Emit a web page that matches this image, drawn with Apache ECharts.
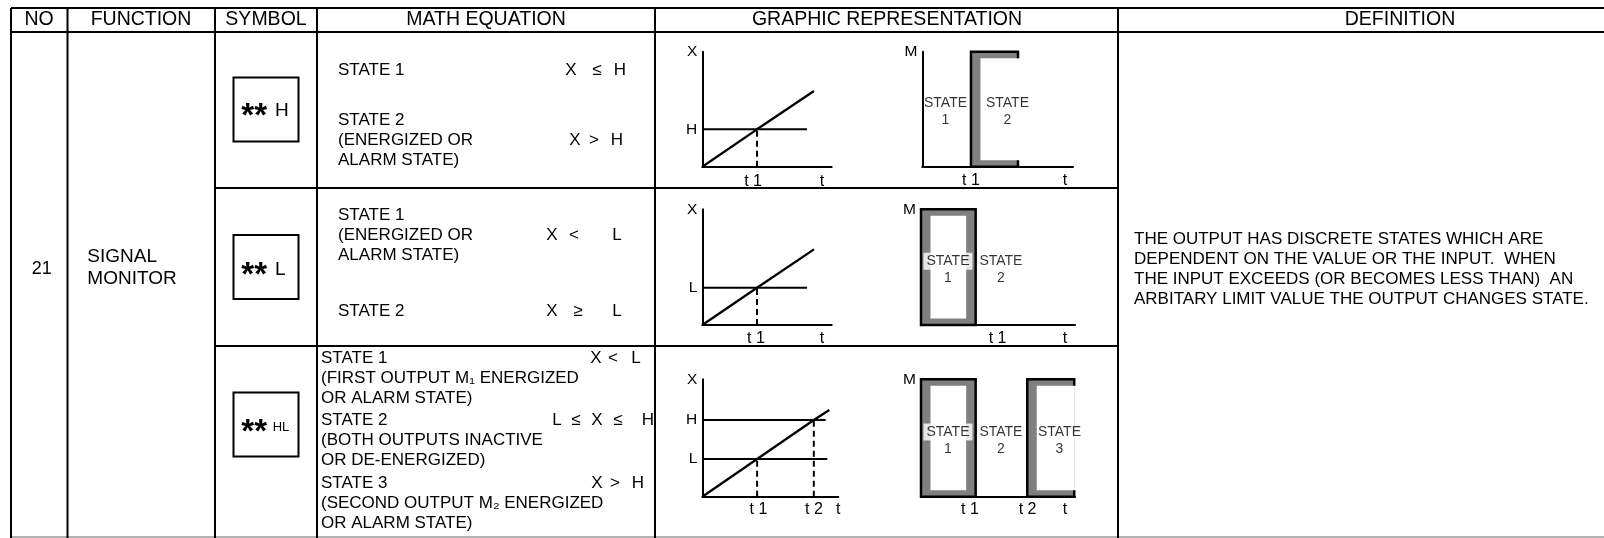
<!DOCTYPE html>
<html><head><meta charset="utf-8">
<script src="https://cdn.jsdelivr.net/npm/echarts@6/dist/echarts.min.js"></script>
<style>html,body{margin:0;padding:0;background:#fff}#c{width:1604px;height:538px}</style>
</head><body><div id="c"></div>
<script>
// ================= DATA =================
const headers = ['NO', 'FUNCTION', 'SYMBOL', 'MATH EQUATION', 'GRAPHIC REPRESENTATION', 'DEFINITION'];
const itemNo = '21';
const functionName = 'SIGNAL\nMONITOR';
const symbolSuffix = ['H', 'L', 'HL'];
const eqTextRow1 = ['STATE 1', 'STATE 2\n(ENERGIZED OR\nALARM STATE)'];
const eqTextRow2 = ['STATE 1\n(ENERGIZED OR\nALARM STATE)', 'STATE 2'];
const eqTextRow3 = ['STATE 1\n(FIRST OUTPUT M\u2081 ENERGIZED\nOR ALARM STATE)',
                    'STATE 2\n(BOTH OUTPUTS INACTIVE\nOR DE-ENERGIZED)',
                    'STATE 3\n(SECOND OUTPUT M\u2082 ENERGIZED\nOR ALARM STATE)'];
const condRow1 = [['X', '\u2264', 'H'], ['X', '>', 'H']];
const condRow2 = [['X', '<', 'L'], ['X', '\u2265', 'L']];
const condRow3 = [['X', '<', 'L'], ['L', '\u2264', 'X', '\u2264', 'H'], ['X', '>', 'H']];
const definitionText = 'THE OUTPUT HAS DISCRETE STATES WHICH ARE\nDEPENDENT ON THE VALUE OR THE INPUT.  WHEN\nTHE INPUT EXCEEDS (OR BECOMES LESS THAN)  AN\nARBITARY LIMIT VALUE THE OUTPUT CHANGES STATE.';

// X-t plots (axes 0..10): ramp input, limit levels [name, level, line end], tick labels
const rampRow1 = [[0, 0], [4.23, 3.25], [8.63, 6.58]];
const limitsRow1 = [['H', 3.25, 8.09]];
const crossRow1 = [[4.23, 3.25]];
const tTicksRow1 = [['t 1', 3.92], ['t', 9.25]];

const rampRow2 = [[0, 0], [4.23, 3.22], [8.63, 6.54]];
const limitsRow2 = [['L', 3.22, 8.09]];
const crossRow2 = [[4.23, 3.22]];
const tTicksRow2 = [['t 1', 4.15], ['t', 9.25]];

const rampRow3 = [[0, 0], [4.03, 3.21], [8.2, 6.53], [9.34, 7.38]];
const limitsRow3 = [['H', 6.53, 9.07], ['L', 3.21, 9.19]];
const crossRow3 = [[4.03, 3.21], [8.2, 6.53]];
const tTicksRow3 = [['t 1', 4.13], ['t 2', 8.21], ['t', 10]];

// M-t output plots (axes 0..10): [start, end, closed(1)/open(0)], tick labels, state labels [state, x]
const M_HIGH = 10;
const outRow1 = [[3.23, 6.35, 0]];
const mTicksRow1 = [['t 1', 3.23], ['t', 9.47]];
const statesRow1 = [['1', 1.54], ['2', 5.65]];

const outRow2 = [[0, 3.55, 1]];
const mTicksRow2 = [['t 1', 4.97], ['t', 9.35]];
const statesRow2 = [['1', 1.75], ['2', 5.19]];

const outRow3 = [[0, 3.55, 1], [6.9, 9.95, 0]];
const mTicksRow3 = [['t 1', 3.18], ['t 2', 6.92], ['t', 9.35]];
const statesRow3 = [['1', 1.75], ['2', 5.19], ['3', 8.99]];

// ================= LAYOUT / STYLE =================
const FONT = '"Liberation Sans", Arial, Helvetica, sans-serif';
const GREY = '#808080';
const grids = [
  { left: 702.3, top: 51.7, width: 129.4, height: 115 },
  { left: 922.3, top: 51.7, width: 150.7, height: 115 },
  { left: 702.3, top: 209.3, width: 129.4, height: 115.7 },
  { left: 921, top: 209.3, width: 154, height: 115.7 },
  { left: 702.3, top: 379.3, width: 136, height: 117.4 },
  { left: 921, top: 379.3, width: 154, height: 117.4 }
].map(g => Object.assign({ outerBoundsMode: 'none', containLabel: false }, g));
const tMargins = [6.5, 6, 6, 6, 4.5, 4.5];

function lookup(list, v) {
  for (const t of list) if (Math.abs(t[1] - v) < 1e-6) return t[0];
  return '';
}
function mkX(gi, ticks) {
  return {
    gridIndex: gi, type: 'value', min: 0, max: 10,
    axisLine: { show: true, onZero: false, lineStyle: { color: '#000', width: 2 } },
    axisTick: { show: false }, splitLine: { show: false },
    axisLabel: { show: true, customValues: ticks.map(t => t[1]), formatter: v => lookup(ticks, v),
      margin: tMargins[gi], color: '#000', fontSize: 16, fontFamily: FONT }
  };
}
function mkY(gi, ticks) {
  return {
    gridIndex: gi, type: 'value', min: 0, max: 10,
    axisLine: { show: true, onZero: false, lineStyle: { color: '#000', width: 2 } },
    axisTick: { show: false }, splitLine: { show: false },
    axisLabel: { show: true, customValues: ticks.map(t => t[1]), formatter: v => lookup(ticks, v),
      margin: 5, color: '#000', fontSize: 15.5, fontFamily: FONT }
  };
}

const xAxes = [], yAxes = [], series = [];
const xtRows = [[rampRow1, limitsRow1, crossRow1, tTicksRow1], [rampRow2, limitsRow2, crossRow2, tTicksRow2], [rampRow3, limitsRow3, crossRow3, tTicksRow3]];
const mtRows = [[outRow1, mTicksRow1, statesRow1], [outRow2, mTicksRow2, statesRow2], [outRow3, mTicksRow3, statesRow3]];

function renderOutput(params, api) {
  const a = api.coord([api.value(0), 0]);
  const b = api.coord([api.value(1), M_HIGH]);
  const closed = api.value(2) === 1;
  const L = a[0], R = b[0], B = a[1], T = b[1];
  const ix = 9.5, iy = 6.5;
  const children = [
    { type: 'rect', shape: { x: L, y: T, width: R - L, height: B - T }, style: { fill: GREY } },
    { type: 'rect', shape: { x: L + ix, y: T + iy, width: closed ? R - L - 2 * ix : R - L - ix, height: B - T - 2 * iy }, style: { fill: '#fff' } }
  ];
  if (closed) {
    children.push({ type: 'rect', shape: { x: L, y: T, width: R - L, height: B - T }, style: { fill: 'none', stroke: '#000', lineWidth: 2.5 } });
  } else {
    children.push({ type: 'polyline', shape: { points: [[R, T + iy], [R, T], [L, T], [L, B], [R, B], [R, B - iy]] }, style: { fill: 'none', stroke: '#000', lineWidth: 2.5 } });
  }
  return { type: 'group', children };
}

for (let r = 0; r < 3; r++) {
  const gx = r * 2, gm = r * 2 + 1;
  const [ramp, limits, cross, tt] = xtRows[r];
  xAxes.push(mkX(gx, tt));
  yAxes.push(mkY(gx, [['X', 10]].concat(limits.map(l => [l[0], l[1]]))));
  series.push({ type: 'line', xAxisIndex: gx, yAxisIndex: gx, data: ramp, symbol: 'none', silent: true, clip: false,
    lineStyle: { color: '#000', width: 2.3 }, z: 3 });
  limits.forEach(l => series.push({ type: 'line', xAxisIndex: gx, yAxisIndex: gx, data: [[0, l[1]], [l[2], l[1]]],
    symbol: 'none', silent: true, clip: false, lineStyle: { color: '#000', width: 2 }, z: 3 }));
  cross.forEach(c => series.push({ type: 'line', xAxisIndex: gx, yAxisIndex: gx, data: [[c[0], 0], [c[0], c[1]]],
    symbol: 'none', silent: true, clip: false, lineStyle: { color: '#000', width: 2, type: [6, 4] }, z: 3 }));

  const [outs, mt, states] = mtRows[r];
  xAxes.push(mkX(gm, mt));
  yAxes.push(mkY(gm, [['M', 10]]));
  series.push({ type: 'custom', xAxisIndex: gm, yAxisIndex: gm, data: outs, renderItem: renderOutput,
    encode: { x: [0, 1], y: 2 }, silent: true, clip: false, z: 2 });
  series.push({ type: 'scatter', xAxisIndex: gm, yAxisIndex: gm, symbolSize: 1, silent: true, z: 5,
    itemStyle: { color: 'transparent' },
    data: states.map(s => [s[1], M_HIGH / 2, s[0]]),
    label: { show: true, position: 'inside', offset: [0, 2.5], color: '#000', fontFamily: FONT,
      formatter: p => {
        const x = p.value[0];
        const boxed = outs.some(o => o[2] === 1 && x > o[0] && x < o[1]);
        return (boxed ? '{w|STATE}' : '{p|STATE}') + '\n{n|' + p.value[2] + '}';
      },
      rich: {
        w: { backgroundColor: '#fff', width: 49, height: 17, lineHeight: 17, align: 'center', fontSize: 14, fontFamily: FONT, color: '#000' },
        p: { lineHeight: 17, align: 'center', fontSize: 14, fontFamily: FONT, color: '#000' },
        n: { lineHeight: 17, align: 'center', fontSize: 14, fontFamily: FONT, color: '#000' }
      } } });
}

// ================= TABLE GRAPHICS =================
const g = [];
function line(x1, y1, x2, y2, w, c) { g.push({ type: 'line', silent: true, shape: { x1, y1, x2, y2 }, style: { stroke: c || '#000', lineWidth: w || 2 } }); }
function text(x, y, t, size, opts) {
  opts = opts || {};
  g.push({ type: 'text', silent: true, x, y, z: 10, style: {
    text: t, fontSize: size, fontFamily: FONT, fontWeight: opts.weight || 'normal', fill: '#000',
    align: opts.align || 'left', verticalAlign: opts.va || 'middle', textAlign: opts.align || 'left',
    textVerticalAlign: opts.va || 'middle', lineHeight: opts.lh || size } });
}
const colX = [11, 67.5, 215, 317, 655, 1118];
line(11, 8, 1604, 8, 2);
line(11, 32, 1604, 32, 2);
line(215, 188, 1118, 188, 2);
line(215, 346, 1118, 346, 2);
line(11, 537, 1604, 537, 1.5, '#999');
colX.forEach(x => line(x, 8, x, 538, 2));

const headCenters = [39, 141, 266, 486, 887, 1400];
headers.forEach((h, i) => text(headCenters[i], 20, h, 19.5, { align: 'center' }));

text(41.7, 269, itemNo, 18, { align: 'center' });
text(87.3, 268, functionName, 19, { lh: 21.5 });

// symbol boxes
const boxes = [[233.5, 77.5], [233.5, 235], [233.5, 392.5]];
const symY = [109.3, 268, 425.5];
const sufSize = [19, 19, 13];
boxes.forEach((b, i) => {
  g.push({ type: 'rect', silent: true, shape: { x: b[0], y: b[1], width: 65, height: 64 }, style: { fill: 'none', stroke: '#000', lineWidth: 2 } });
  text(254.2, symY[i] + 7.5, '**', 33, { align: 'center', weight: 'bold' });
  text(i === 2 ? 272.7 : 275, symY[i] + 1.5, symbolSuffix[i], sufSize[i]);
});

// equations
text(338, 70, eqTextRow1[0], 17, { lh: 20 });
text(338, 140, eqTextRow1[1], 17, { lh: 20 });
text(338, 235, eqTextRow2[0], 17, { lh: 20 });
text(338, 311, eqTextRow2[1], 17, { lh: 20 });
text(321, 378.5, eqTextRow3[0], 17, { lh: 20.3 });
text(321, 440.5, eqTextRow3[1], 17, { lh: 20.3 });
text(321, 503.5, eqTextRow3[2], 17, { lh: 20.3 });

function cond(tokens, xs, y) { tokens.forEach((t, i) => text(xs[i], y, t, 17, { align: 'center' })); }
cond(condRow1[0], [571, 597, 620], 70);
cond(condRow1[1], [575, 594, 617], 140);
cond(condRow2[0], [552, 574, 617], 235);
cond(condRow2[1], [552, 578, 617], 311);
cond(condRow3[0], [596, 613, 636], 358);
cond(condRow3[1], [557, 576, 597, 618, 648], 420);
cond(condRow3[2], [597, 615, 638], 483);

text(1134, 269, definitionText, 17, { lh: 20 });

const chart = echarts.init(document.getElementById('c'), null, { renderer: 'canvas' });
chart.setOption({
  animation: false,
  backgroundColor: '#fff',
  grid: grids,
  xAxis: xAxes,
  yAxis: yAxes,
  series: series,
  graphic: { elements: g }
});
</script></body></html>
